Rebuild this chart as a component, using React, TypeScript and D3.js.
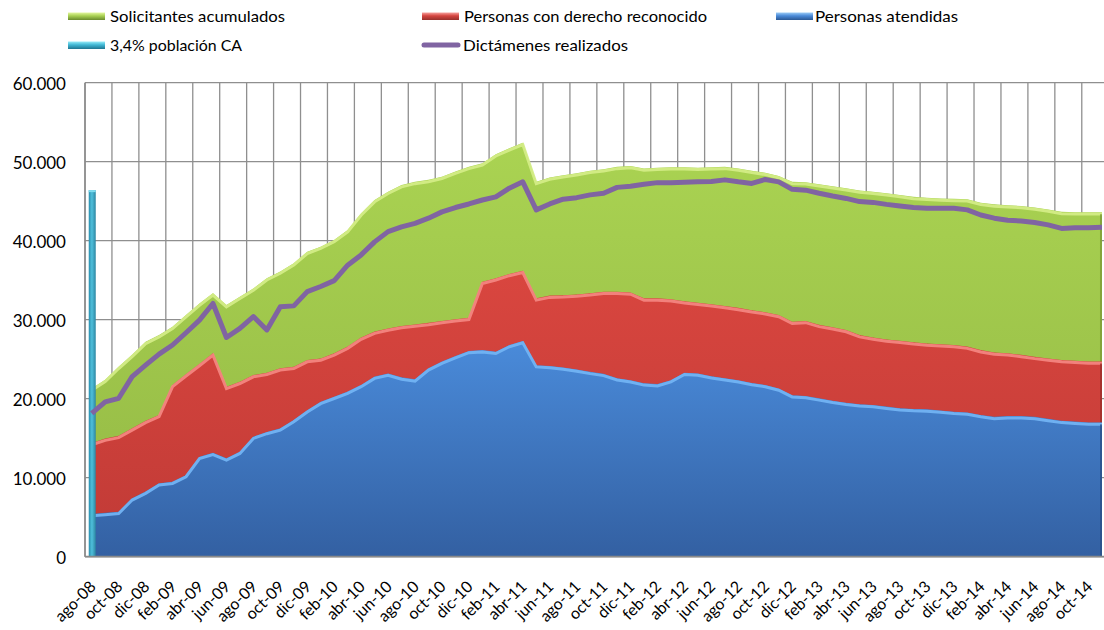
import React from "react";
import * as d3 from "d3";

const months = [
  "ago-08","sep-08","oct-08","nov-08","dic-08",
  "ene-09","feb-09","mar-09","abr-09","may-09","jun-09","jul-09","ago-09","sep-09","oct-09","nov-09","dic-09",
  "ene-10","feb-10","mar-10","abr-10","may-10","jun-10","jul-10","ago-10","sep-10","oct-10","nov-10","dic-10",
  "ene-11","feb-11","mar-11","abr-11","may-11","jun-11","jul-11","ago-11","sep-11","oct-11","nov-11","dic-11",
  "ene-12","feb-12","mar-12","abr-12","may-12","jun-12","jul-12","ago-12","sep-12","oct-12","nov-12","dic-12",
  "ene-13","feb-13","mar-13","abr-13","may-13","jun-13","jul-13","ago-13","sep-13","oct-13","nov-13","dic-13",
  "ene-14","feb-14","mar-14","abr-14","may-14","jun-14","jul-14","ago-14","sep-14","oct-14","nov-14",
];

const solicitantes = [
  21300,22400,24050,25550,27200,28050,29100,30600,32050,33350,31850,32900,33950,35250,36100,37150,38600,39250,40100,41350,
  43450,45150,46200,47050,47450,47700,48100,48750,49350,49800,50950,51700,52400,47450,48000,48300,48550,48850,49050,49350,
  49450,49150,49250,49300,49300,49250,49300,49350,49150,48850,48600,48200,47450,47400,47150,46900,46650,46350,46200,46000,
  45800,45550,45450,45350,45300,45250,44800,44600,44500,44400,44200,43950,43650,43600,43600,43600,
];

const derechoReconocido = [
  14400,14950,15300,16250,17200,17950,21750,23100,24400,25750,21500,22150,23000,23300,23850,24050,24900,25100,25750,26600,
  27750,28500,28900,29200,29400,29600,29850,30050,30250,34800,35250,35800,36200,32700,33050,33100,33200,33350,33550,33550,
  33450,32700,32700,32600,32350,32150,31950,31750,31500,31200,30950,30600,29750,29850,29350,29050,28700,28050,27750,27500,
  27350,27150,27000,26900,26800,26600,26150,25850,25750,25550,25300,25100,24900,24800,24700,24700,
];

const atendidas = [
  5400,5550,5700,7400,8250,9300,9500,10350,12650,13150,12450,13300,15200,15800,16250,17300,18550,19600,20250,20900,
  21750,22800,23200,22700,22450,23850,24700,25400,26050,26150,25950,26800,27300,24250,24150,23950,23700,23400,23150,22600,
  22350,21950,21850,22350,23300,23200,22850,22600,22350,22000,21750,21300,20450,20350,20050,19750,19500,19300,19200,19000,
  18800,18700,18650,18500,18350,18250,17950,17700,17800,17800,17700,17450,17200,17100,17000,17000,
];

const dictamenes = [
  18150,19600,20050,22800,24250,25650,26800,28350,29950,32050,27750,28900,30400,28700,31650,31750,33550,34200,34950,36900,
  38200,39850,41150,41750,42200,42850,43650,44200,44650,45150,45550,46650,47450,43900,44650,45250,45450,45800,46000,46750,
  46900,47150,47350,47350,47400,47450,47500,47700,47450,47250,47750,47450,46500,46400,46000,45650,45350,44950,44850,44600,
  44400,44200,44100,44100,44100,43900,43250,42850,42600,42500,42300,42000,41550,41650,41650,41700,
];

const poblacionCA = [46400];

const yTicks = [0, 10000, 20000, 30000, 40000, 50000, 60000];

const legendItems = [
  { label: "Solicitantes acumulados", kind: "rect", grad: "lg-green", x: 68, y: 16, tx: 110, tw: 175 },
  { label: "Personas con derecho  reconocido", kind: "rect", grad: "lg-red", x: 422, y: 16, tx: 464, tw: 243 },
  { label: "Personas atendidas", kind: "rect", grad: "lg-blue", x: 776, y: 16, tx: 815, tw: 143 },
  { label: "3,4% población CA", kind: "rect", grad: "lg-cyan", x: 68, y: 45, tx: 110, tw: 132 },
  { label: "Dictámenes realizados", kind: "line", grad: "", x: 422, y: 45, tx: 463, tw: 165 },
];

const FONT = "Lato, 'Open Sans', 'DejaVu Sans', sans-serif";

export default function App() {
  const W = 1104, H = 630;
  const left = 85, top = 82.7, bottom = 556.7, step = 13.47;
  const n = months.length;
  const x = d3.scaleBand<number>().domain(d3.range(n)).range([left, left + n * step]).padding(0);
  const bw = x.bandwidth();
  const cx = (i: number) => (x(i) as number) + bw / 2;
  const y = d3.scaleLinear().domain([0, 60000]).range([bottom, top]);
  const right = left + n * step;

  const area = d3.area<number>().x((_, i) => cx(i)).y0(y(0)).y1((d) => y(d));
  const line = d3.line<number>().x((_, i) => cx(i)).y((d) => y(d));

  const vGrid = d3.range(0, n + 1, 2).map((i) => (i < n ? (x(i) as number) : right));

  const series = [
    { data: solicitantes, grad: "g-green", hi: "#d3ec86", edge: "#7d9c36" },
    { data: derechoReconocido, grad: "g-red", hi: "#f3857f", edge: "#9d2f2b" },
    { data: atendidas, grad: "g-blue", hi: "#72b3f3", edge: "#2a5089" },
  ];

  const lastX = cx(n - 1);

  return (
    <div style={{ position: "absolute", left: 0, top: 0 }}>
      <svg width={W} height={H} style={{ display: "block", background: "#fff" }}>
        <defs>
          <linearGradient id="g-green" x1="0" y1="0" x2="0" y2="1">
            <stop offset="0%" stopColor="#aad352" />
            <stop offset="100%" stopColor="#93b844" />
          </linearGradient>
          <linearGradient id="g-red" x1="0" y1="0" x2="0" y2="1">
            <stop offset="0%" stopColor="#d9463f" />
            <stop offset="100%" stopColor="#c03a36" />
          </linearGradient>
          <linearGradient id="g-blue" x1="0" y1="0" x2="0" y2="1">
            <stop offset="0%" stopColor="#4a8bda" />
            <stop offset="100%" stopColor="#3360a2" />
          </linearGradient>
          <linearGradient id="g-cyan" x1="0" y1="0" x2="1" y2="0">
            <stop offset="0%" stopColor="#2a8eae" />
            <stop offset="45%" stopColor="#4fbfdb" />
            <stop offset="100%" stopColor="#2c86a2" />
          </linearGradient>
          <linearGradient id="lg-green" x1="0" y1="0" x2="0" y2="1">
            <stop offset="0%" stopColor="#e4f7a0" />
            <stop offset="45%" stopColor="#a8d052" />
            <stop offset="100%" stopColor="#6a8a2e" />
          </linearGradient>
          <linearGradient id="lg-red" x1="0" y1="0" x2="0" y2="1">
            <stop offset="0%" stopColor="#f7a29e" />
            <stop offset="45%" stopColor="#d4443f" />
            <stop offset="100%" stopColor="#98302c" />
          </linearGradient>
          <linearGradient id="lg-blue" x1="0" y1="0" x2="0" y2="1">
            <stop offset="0%" stopColor="#9cccf6" />
            <stop offset="45%" stopColor="#4a8ad8" />
            <stop offset="100%" stopColor="#2b5894" />
          </linearGradient>
          <linearGradient id="lg-cyan" x1="0" y1="0" x2="0" y2="1">
            <stop offset="0%" stopColor="#97ecf9" />
            <stop offset="45%" stopColor="#40b7d4" />
            <stop offset="100%" stopColor="#1f7590" />
          </linearGradient>
        </defs>

        {/* Legend */}
        {legendItems.map((it) => (
          <g key={it.label}>
            {it.kind === "rect" ? (
              <rect x={it.x} y={it.y - 3.5} width={37} height={7.5} fill={`url(#${it.grad})`} />
            ) : (
              <line x1={it.x + 2} x2={it.x + 36} y1={it.y} y2={it.y} stroke="#8064a2" strokeWidth={5} strokeLinecap="round" />
            )}
            <text
              x={it.tx}
              y={it.y}
              dy="0.36em"
              fontFamily={FONT}
              fontSize={16}
              fill="#000"
              textLength={it.tw}
              lengthAdjust="spacingAndGlyphs"
            >
              {it.label}
            </text>
          </g>
        ))}

        {/* Gridlines */}
        {yTicks.map((t) => (
          <line key={"h" + t} x1={left} x2={right} y1={y(t)} y2={y(t)} stroke="#8f8f8f" strokeWidth={1.3} />
        ))}
        {vGrid.map((gx, k) => (
          <line key={"v" + k} x1={gx} x2={gx} y1={top} y2={bottom} stroke="#8f8f8f" strokeWidth={1.3} />
        ))}

        {/* Areas */}
        {series.map((s) => (
          <g key={s.grad}>
            <path d={area(s.data) || ""} fill={`url(#${s.grad})`} />
            <path
              d={line(s.data) || ""}
              fill="none"
              stroke={s.hi}
              strokeWidth={3}
              transform="translate(0,1.8)"
              opacity={0.95}
            />
            <line
              x1={lastX - 1}
              x2={lastX - 1}
              y1={y(s.data[n - 1]) + 2}
              y2={bottom}
              stroke={s.edge}
              strokeWidth={2}
              opacity={0.8}
            />
          </g>
        ))}

        {/* Column: 3,4% población CA */}
        {poblacionCA.map((v, i) => (
          <g key={"bar" + i}>
            <rect x={cx(i) - 3} y={y(v)} width={7} height={bottom - y(v)} fill="url(#g-cyan)" />
            <rect x={cx(i) - 3} y={y(v)} width={7} height={2} fill="#7fdcef" />
          </g>
        ))}

        {/* Line: Dictámenes */}
        <path d={line(dictamenes) || ""} fill="none" stroke="#8064a2" strokeWidth={5} strokeLinejoin="round" />

        {/* Axes */}
        <line x1={left} x2={left} y1={top} y2={bottom} stroke="#8a8a8a" strokeWidth={1.5} />
        <line x1={left} x2={right} y1={bottom} y2={bottom} stroke="#8a8a8a" strokeWidth={1.8} />

        {/* Y labels */}
        {yTicks.map((t) => (
          <text
            key={"yl" + t}
            x={66}
            y={y(t) + 1.5}
            dy="0.35em"
            textAnchor="end"
            fontFamily={FONT}
            fontSize={17}
            fill="#000"
          >
            {d3.format(",")(t).replace(/,/g, ".")}
          </text>
        ))}

        {/* X labels */}
        {months.map((m, i) =>
          i % 2 === 0 ? (
            <text
              key={"xl" + i}
              transform={`translate(${cx(i) + 1},${bottom + 27}) rotate(-45)`}
              dy="0.35em"
              textAnchor="end"
              fontFamily={FONT}
              fontSize={16}
              fill="#000"
            >
              {m}
            </text>
          ) : null
        )}
      </svg>
    </div>
  );
}
